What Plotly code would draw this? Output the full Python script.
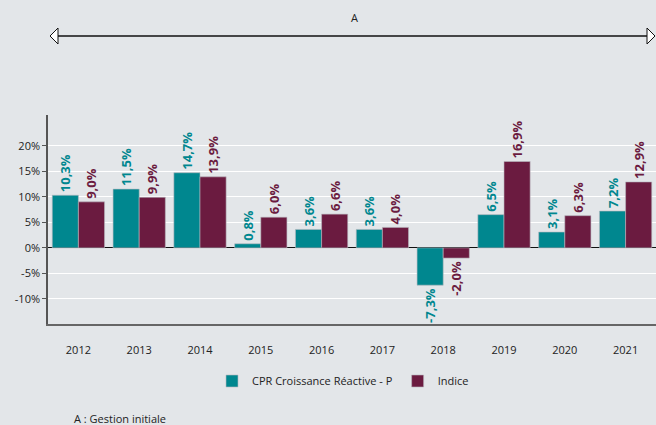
import plotly.graph_objects as go

years = ["2012", "2013", "2014", "2015", "2016", "2017", "2018", "2019", "2020", "2021"]
fund = [10.3, 11.5, 14.7, 0.8, 3.6, 3.6, -7.3, 6.5, 3.1, 7.2]
index = [9.0, 9.9, 13.9, 6.0, 6.6, 4.0, -2.0, 16.9, 6.3, 12.9]
series_names = ["CPR Croissance Réactive - P", "Indice"]
y_ticks = [-10, -5, 0, 5, 10, 15, 20]
y_tick_text = ["-10%", "-5%", "0%", "5%", "10%", "15%", "20%"]

TEAL = "#00878F"
PLUM = "#6B1B40"
BG = "#E3E6E9"

fig = go.Figure()
for name, vals, col in [(series_names[0], fund, TEAL), (series_names[1], index, PLUM)]:
    fig.add_trace(go.Bar(
        x=years, y=vals, name=name,
        marker=dict(color=col, line=dict(color="#B8B8C0", width=0.6)),
        texttemplate="%{y:.1f}%", textposition="outside", textangle=-90,
        textfont=dict(color=col, size=13, family="Open Sans", weight="bold"),
        constraintext="none", cliponaxis=False,
    ))

T, B = 115, 101
H = 425 - T - B
W = 608


def py(pix):
    return (425 - B - pix) / H


def px(pix):
    return (pix - 48) / W


fig.update_layout(
    width=656, height=425,
    paper_bgcolor=BG, plot_bgcolor=BG,
    margin=dict(l=48, r=0, t=T, b=B),
    barmode="group", bargap=0.14, bargroupgap=0.0,
    separators=", ",
    font=dict(family="Open Sans", color="#222222", size=11),
    showlegend=True,
    legend=dict(orientation="h", x=px(343), xanchor="center", y=py(381), yanchor="middle",
                font=dict(size=11), bgcolor="rgba(0,0,0,0)"),
    xaxis=dict(showgrid=False, showline=True, linecolor="#666666", linewidth=1.5,
               ticks="", ticklabelstandoff=15, tickfont=dict(size=11)),
    yaxis=dict(range=[-14.9, 26], tickmode="array", tickvals=y_ticks, ticktext=y_tick_text,
               showgrid=True, gridcolor="#FFFFFF", gridwidth=1.2,
               zeroline=True, zerolinecolor="#111111", zerolinewidth=1,
               showline=True, linecolor="#555555", linewidth=1.5,
               ticks="outside", ticklen=4, tickcolor="#555555",
               tickfont=dict(size=11)),
)

# top arrow spanning the whole period
ay = 36
fig.add_shape(type="line", xref="paper", yref="paper",
              x0=px(58), x1=px(647), y0=py(ay), y1=py(ay),
              line=dict(color="#111111", width=1.5))
for tip, base in [(50, 58), (655, 647)]:
    fig.add_shape(type="path", xref="paper", yref="paper",
                  path="M {a},{yc} L {b},{yt} L {b},{yb} Z".format(
                      a=px(tip), b=px(base), yc=py(ay), yt=py(ay - 8), yb=py(ay + 8)),
                  fillcolor="white", line=dict(color="#111111", width=1))
fig.add_annotation(text="A", xref="paper", yref="paper", x=px(354), y=py(18),
                   yanchor="middle", showarrow=False, font=dict(size=11, color="#222222"))
fig.add_annotation(text="A : Gestion initiale", xref="paper", yref="paper",
                   x=px(72), y=py(418), xanchor="left", yanchor="middle",
                   showarrow=False, font=dict(size=11, color="#222222"))

fig.write_html("out.html", config={"displayModeBar": False},
               post_script="document.body.style.margin='0';document.body.style.overflow='hidden';")
